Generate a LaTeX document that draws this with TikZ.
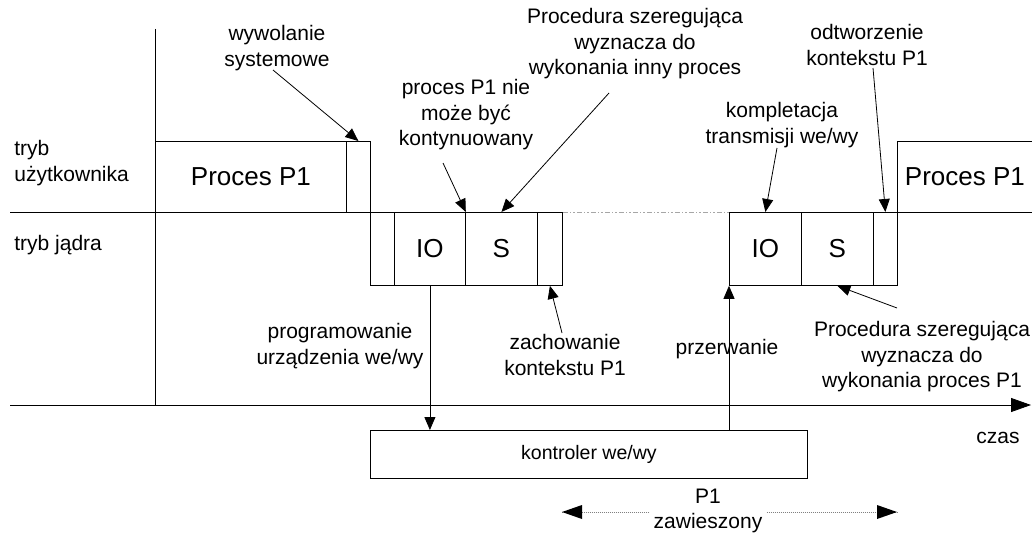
\documentclass[tikz,border=0pt]{standalone}
\usepackage{fontspec}
\setmainfont{Liberation Sans}
\usetikzlibrary{arrows.meta,calc}
\begin{document}
\begin{tikzpicture}[x=1pt,y=-1pt,
  line width=0.8pt,
  lbl/.style={font=\fontsize{21}{25.5}\selectfont, align=center, inner sep=0pt},
  big/.style={font=\fontsize{26}{30}\selectfont},
  kbox/.style={draw, anchor=north west, inner sep=0pt, minimum height=73pt},
  ubox/.style={draw, anchor=north west, inner sep=0pt, minimum height=71pt},
  tip/.style={-{Triangle[length=13pt,width=11pt]}},
  bigtip/.style={-{Triangle[length=20pt,width=14pt]}},
  idle/.style={gray!70, dash pattern=on 5pt off 2pt on 1.5pt off 2pt on 1.5pt off 2pt},
  susp/.style={gray, dash pattern=on 1pt off 1pt, line width=0.6pt}
]
\useasboundingbox (0,0) rectangle (1032,535);

% axes
\coordinate (vtop) at (155,29);
\coordinate (vbot) at (155,405);
\coordinate (t0) at (10,405);
\coordinate (t1) at (1031,405);
\coordinate (u0) at (10,212);
\draw (vtop) -- (vbot);
\draw[bigtip] (t0) -- (t1);

% mode labels
\node[lbl, anchor=west, align=left] (tu) at (14,163) {tryb\\użytkownika};
\node[lbl, anchor=west] (tj) at (14,245) {tryb jądra};
\node[lbl] (czas) at (998,438) {czas};

% user mode, first run
\node[ubox, big, minimum width=191pt] (pA) at (155,141) {Proces P1};
\node[ubox, minimum width=24pt] (sA) at (346,141) {};

% kernel, first entry
\node[kbox, minimum width=24pt] (kA1) at (370,212) {};
\node[kbox, big, minimum width=71pt] (ioA) at (394,212) {IO};
\node[kbox, big, minimum width=72pt] (sA2) at (465,212) {S};
\node[kbox, minimum width=25pt] (kA4) at (537,212) {};

% kernel, second entry
\node[kbox, big, minimum width=72pt] (ioB) at (729,212) {IO};
\node[kbox, big, minimum width=72pt] (sB) at (801,212) {S};
\node[kbox, minimum width=24pt] (kB3) at (873,212) {};

% user mode, resumed
\node[anchor=north west, inner sep=0pt, minimum width=135pt, minimum height=71pt, big] (pB) at (897,141) {Proces P1};
\draw (pB.north east) -- (pB.north west) -- (pB.south west) -- (pB.south east);

% mode boundary
\draw (u0) -- (kA4.north east);
\draw[idle] (kA4.north east) -- (ioB.north west);

% device controller
\node[draw, anchor=north west, inner sep=0pt, minimum width=437pt, minimum height=48pt, lbl, font=\fontsize{19.5}{24}\selectfont] (ctl) at (370,430) {kontroler we/wy};
\draw[tip] (ioA.south) -- (ioA.south |- ctl.north);
\coordinate (irq) at (ioB.south west |- ctl.north);
\node[lbl, fill=white, inner xsep=1pt, inner ysep=3pt] (przerw) at (727,349) {przerwanie};
\draw[tip] (irq) -- (ioB.south west);

% annotations
\node[lbl] (sys) at (277,48) {wywolanie\\systemowe};
\coordinate (sysA) at (273,70);
\draw[tip] (sysA) -- (sA.north);

\node[lbl] (nie) at (466,115) {proces P1 nie\\może być\\kontynuowany};
\coordinate (nieA) at (443,163);
\draw[tip] (nieA) -- (ioA.north east);

\node[lbl] (sch1) at (635,44) {Procedura szeregująca\\wyznacza do\\wykonania inny proces};
\coordinate (sch1A) at (609,93);
\draw[tip] (sch1A) -- (sA2.north);

\node[lbl] (komp) at (782,125) {kompletacja\\transmisji we/wy};
\coordinate (kompA) at (777,148);
\draw[tip] (kompA) -- (ioB.north);

\node[lbl] (odtw) at (867,45) {odtworzenie\\kontekstu P1};
\coordinate (odtwA) at (873,68);
\draw[tip] (odtwA) -- (kB3.north);

\node[lbl] (prog) at (340,346) {programowanie\\urządzenia we/wy};

\node[lbl] (zach) at (565,355) {zachowanie\\kontekstu P1};
\coordinate (zachA) at (562,333);
\draw[tip] (zachA) -- (kA4.south);

\node[lbl] (sch2) at (922,357) {Procedura szeregująca\\wyznacza do\\wykonania proces P1};
\coordinate (sch2A) at (897,308);
\draw[tip] (sch2A) -- (sB.south);

% suspension interval
\node[lbl] (zaw) at (708,511) {P1\\zawieszony};
\coordinate (zl) at (562,512);
\coordinate (zr) at (897,512);
\path (zaw.west |- zl) ++(-4,0) coordinate (zlA);
\path (zaw.east |- zr) ++(4,0) coordinate (zrA);
\draw[susp] (zlA) -- (zl);
\draw[susp] (zrA) -- (zr);
\fill (zl) -- ++(20,-7) -- ++(0,14) -- cycle;
\fill (zr) -- ++(-20,-7) -- ++(0,14) -- cycle;
\end{tikzpicture}
\end{document}
